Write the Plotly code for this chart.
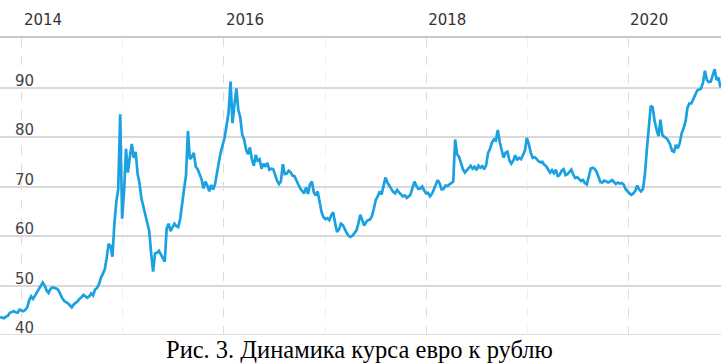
import pandas as pd
import plotly.graph_objects as go

# Weekly EUR/RUB rate (first week starts 2013-10-14)
start_date = "2013-10-14"
rates = [
    43.6, 43.5, 43.4, 43.7, 43.9, 44.5, 44.7, 44.8, 44.6, 44.5,
    45.1, 45.0, 44.8, 45.1, 45.6, 47.0, 47.8, 47.3, 48.0, 48.8,
    49.3, 49.9, 50.6, 50.0, 49.0, 48.5, 49.3, 49.6, 49.5, 49.4,
    49.1, 48.2, 47.5, 46.9, 46.7, 46.4, 46.0, 45.6, 46.2, 46.5,
    46.8, 47.3, 47.6, 48.1, 47.8, 47.5, 47.8, 48.4, 48.0, 49.2,
    49.5, 50.2, 51.5, 52.3, 53.2, 55.5, 58.4, 58.0, 55.8, 62.5,
    66.9, 69.5, 84.6, 63.5, 69.0, 77.6, 72.8, 76.0, 78.6, 75.8,
    77.0, 72.5, 70.6, 67.5, 66.0, 64.1, 63.0, 61.0, 56.5, 52.8,
    56.5, 56.6, 57.0, 56.2, 55.5, 54.8, 61.5, 62.5, 61.0, 61.8,
    62.5, 62.0, 61.8, 63.5, 67.0, 69.5, 72.3, 81.2, 75.5, 76.0,
    76.8, 74.0, 73.5, 72.4, 71.5, 69.6, 71.0, 70.2, 69.0, 70.3,
    69.4, 70.5, 73.0, 75.0, 77.0, 78.3, 80.0, 82.5, 85.0, 91.2,
    82.8, 86.5, 89.8, 85.5, 84.0, 80.5, 79.5, 77.5, 76.5, 77.9,
    75.5, 74.2, 76.4, 75.2, 75.5, 73.6, 74.6, 74.0, 74.8, 73.4,
    73.6, 73.5, 72.2, 71.2, 70.5, 71.0, 74.5, 72.5, 72.6, 73.2,
    72.9, 72.2, 72.1, 71.4, 70.4, 69.6, 69.0, 68.6, 69.8, 68.5,
    70.4, 71.0, 68.8, 68.2, 69.0, 67.2, 64.8, 63.8, 63.4, 63.6,
    63.2, 64.2, 64.8, 62.6, 60.8, 61.3, 62.5, 62.2, 61.2, 60.6,
    60.0, 59.8, 60.1, 60.6, 61.1, 62.5, 64.3, 63.2, 62.1, 62.8,
    63.2, 63.3, 64.0, 65.5, 67.3, 68.0, 69.0, 68.4, 70.2, 71.8,
    70.8, 70.2, 69.5, 68.9, 68.6, 69.3, 68.8, 68.3, 68.0, 68.2,
    67.7, 68.0, 68.4, 69.8, 71.0, 70.1, 69.5, 69.6, 70.0, 69.2,
    68.6, 68.7, 68.0, 68.5, 69.5, 70.3, 71.3, 70.6, 69.4, 69.5,
    70.2, 70.1, 70.4, 70.7, 71.0, 79.5, 76.5, 76.0, 74.8, 73.5,
    72.8, 73.2, 73.6, 74.2, 73.6, 74.0, 73.3, 74.2, 73.8, 74.1,
    73.5, 74.3, 76.8, 77.6, 78.9, 79.5, 79.3, 81.4, 79.0, 77.3,
    75.8, 76.8, 77.0, 75.3, 74.6, 75.2, 76.3, 75.3, 75.8, 75.5,
    76.2, 77.2, 79.8, 78.6, 76.9, 75.8, 75.9, 75.6, 75.1, 74.9,
    75.0, 74.4, 74.1, 73.5, 72.8, 73.3, 72.7, 73.4, 72.0, 72.4,
    73.2, 73.5, 72.3, 72.5, 73.0, 73.4, 72.4, 71.7, 71.9, 71.4,
    71.1, 71.3, 70.7, 70.4, 72.2, 73.6, 73.8, 73.6, 73.0, 72.0,
    70.9, 70.8, 71.2, 71.0, 70.8, 71.0, 71.3, 70.9, 70.5, 70.8,
    70.6, 70.7, 70.4, 69.5, 69.0, 68.6, 68.3, 68.6, 69.1, 70.2,
    69.4, 69.0, 69.5, 72.5, 77.5, 82.5, 86.3, 86.0, 83.2, 81.5,
    80.2, 83.5, 80.4, 80.0, 79.8, 79.3, 78.5, 77.2, 77.0, 78.4,
    77.7, 78.8, 80.8, 81.8, 83.2, 86.0, 86.8, 86.8, 87.8, 88.8,
    89.4, 89.6, 89.8, 91.0, 93.4, 91.5, 91.1, 91.2, 92.5, 93.7,
    91.5, 92.0, 90.0,
]
dates = pd.date_range(start_date, periods=len(rates), freq="7D")

y_ticks = [40, 50, 60, 70, 80, 90]
caption = "Рис. 3. Динамика курса евро к рублю"

fig = go.Figure()
fig.add_trace(go.Scatter(
    x=dates, y=rates, mode="lines",
    line=dict(color="#1aa1e1", width=2.7),
    hoverinfo="skip", showlegend=False,
))

fig.add_shape(type="line", xref="paper", x0=0, x1=1, yref="y", y0=40, y1=40,
              line=dict(color="#d2d2d2", width=1.5), layer="below")

fig.add_annotation(text=caption, xref="paper", yref="paper", x=0.4986, y=0,
                   xanchor="center", yanchor="top", yshift=1, showarrow=False,
                   font=dict(family="Liberation Serif", size=24.5, color="#000000"))

fig.update_layout(
    width=721, height=364,
    margin=dict(l=0, r=0, t=38, b=29, pad=0),
    paper_bgcolor="white", plot_bgcolor="white",
    font=dict(family="DejaVu Sans", size=15, color="#333333"),
    xaxis=dict(
        type="date",
        range=["2013-10-13 12:00", "2020-12-02"],
        side="top",
        tick0="2014-01-01", dtick="M24",
        tickformat="%Y",
        ticks="", ticklabelposition="outside right", ticklabelshift=1,
        ticklabelstandoff=5,
        showgrid=True, gridcolor="#dcdcdc", gridwidth=1, griddash="dash",
        minor=dict(dtick="M12", tick0="2014-01-01", showgrid=True,
                   gridcolor="#efefef", gridwidth=1, griddash="dash"),
        showline=True, linecolor="#c8c8c8", linewidth=2,
        zeroline=False, fixedrange=True,
    ),
    yaxis=dict(
        range=[40, 100],
        tickvals=y_ticks,
        ticks="", ticklabelposition="inside", ticklabelshift=-7,
        ticklabelstandoff=12, ticklabeloverflow="allow",
        showgrid=True, gridcolor="#d9d9d9", gridwidth=1.5,
        showline=False, zeroline=False, fixedrange=True,
    ),
)

fig.write_html("out.html", config={"displayModeBar": False},
               post_script="document.body.style.margin='0';")
